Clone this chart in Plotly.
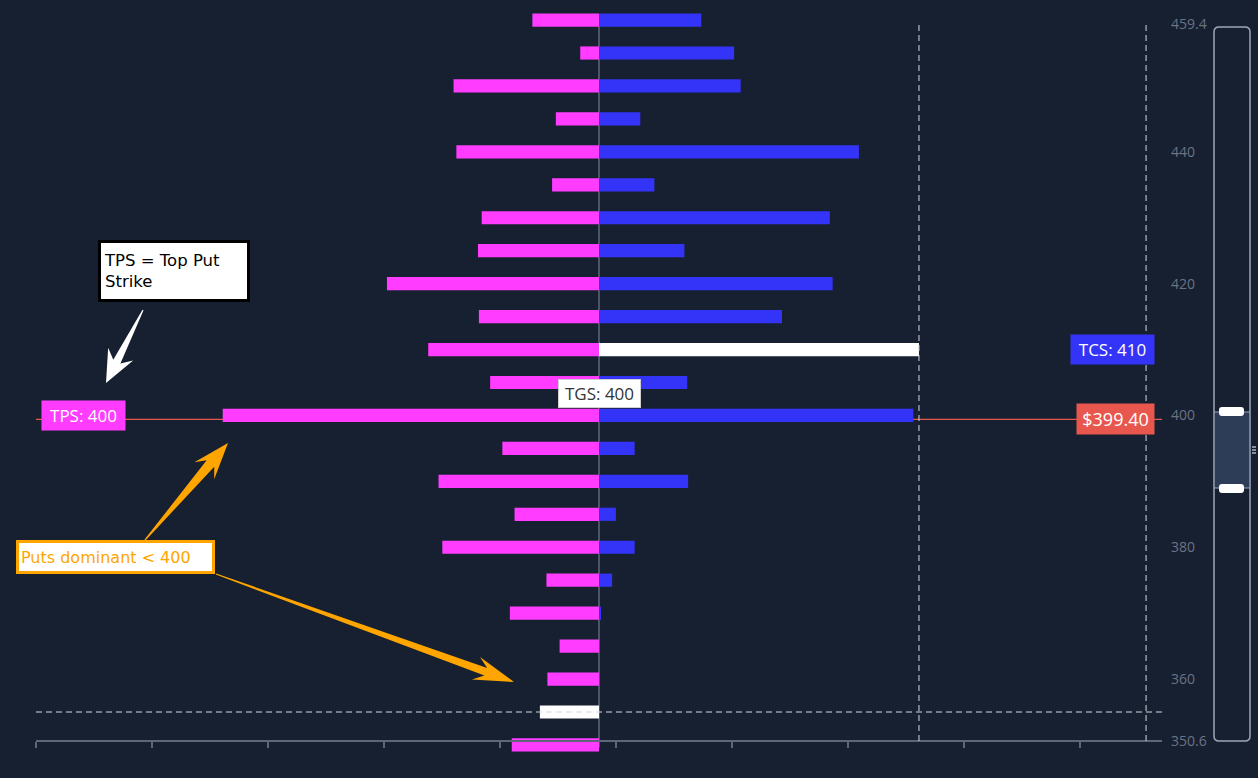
import math
import plotly.graph_objects as go

# ------------------------------------------------------------
# DADOS (open interest por strike, em milhares de contratos)
# ------------------------------------------------------------
strikes = list(range(350, 461, 5))
put_oi = [9.3, 6.3, 5.5, 4.2, 9.5, 5.6, 16.7, 9.0, 17.1, 10.3, 40.1, 11.6,
          18.2, 12.8, 22.6, 12.9, 12.5, 5.0, 15.2, 4.6, 15.5, 2.0, 7.1]
call_oi = [0, 0, 0, 0, 0.2, 1.4, 3.8, 1.8, 9.5, 3.8, 33.5, 9.4,
           34.1, 19.5, 24.9, 9.1, 24.6, 5.9, 27.7, 4.4, 15.1, 14.4, 10.9]
spot = 399.40
put_marker_strike = 355
upper_marker = 58.3
y_range = [350.6, 459.4]
y_ticks = [350.6, 360, 380, 400, 420, 440, 459.4]

tps = strikes[put_oi.index(max(put_oi))]
tcs = strikes[call_oi.index(max(call_oi))]
gross = [p + c for p, c in zip(put_oi, call_oi)]
tgs = strikes[gross.index(max(gross))]

# cores
BG = "#172031"
MAGENTA = "#ff3cff"
BLUE = "#3434f8"
ORANGE = "#ffa500"
GRAY = "#5f6776"

# ------------------------------------------------------------
# GEOMETRIA
# eixo y "visível" vai do pixel 24 ao 741; a área do gráfico é
# um pouco maior para as barras das pontas não serem cortadas
# ------------------------------------------------------------
W, H = 1258, 778
AX_TOP, AX_BOT = 24, 741
PAD = 12
ML, MR, MT, MB = 36, 96, AX_TOP - PAD, H - AX_BOT - PAD
PW = W - ML - MR
PH = H - MT - MB
ppu = (AX_BOT - AX_TOP) / (y_range[1] - y_range[0])
y_full = [y_range[0] - PAD / ppu, y_range[1] + PAD / ppu]


def px(x):
    return (x - ML) / PW


def py(y):
    return (H - MB - y) / PH


def seta(tail, tip, head, half_w, shaft_w):
    dx, dy = tip[0] - tail[0], tip[1] - tail[1]
    l = math.hypot(dx, dy)
    ux, uy = dx / l, dy / l
    nx, ny = -uy, ux
    bx, by = tip[0] - ux * head, tip[1] - uy * head
    wx, wy = tip[0] - ux * head * 1.35, tip[1] - uy * head * 1.35
    pts = [
        (tail[0] + nx * 0.6, tail[1] + ny * 0.6),
        (bx + nx * shaft_w, by + ny * shaft_w),
        (wx + nx * half_w, wy + ny * half_w),
        tip,
        (wx - nx * half_w, wy - ny * half_w),
        (bx - nx * shaft_w, by - ny * shaft_w),
        (tail[0] - nx * 0.6, tail[1] - ny * 0.6),
    ]
    return "M " + " L ".join(f"{px(a):.5f},{py(b):.5f}" for a, b in pts) + " Z"


def rrect(x0, y0, x1, y1, r):
    p = lambda a, b: f"{px(a):.5f},{py(b):.5f}"
    return (f"M {p(x0 + r, y0)} L {p(x1 - r, y0)} Q {p(x1, y0)} {p(x1, y0 + r)} "
            f"L {p(x1, y1 - r)} Q {p(x1, y1)} {p(x1 - r, y1)} "
            f"L {p(x0 + r, y1)} Q {p(x0, y1)} {p(x0, y1 - r)} "
            f"L {p(x0, y0 + r)} Q {p(x0, y0)} {p(x0 + r, y0)} Z")


# ------------------------------------------------------------
# BARRAS
# ------------------------------------------------------------
put_colors = ["#ffffff" if s == put_marker_strike else MAGENTA for s in strikes]
call_colors = ["#ffffff" if s == tcs else BLUE for s in strikes]

fig = go.Figure()
fig.add_trace(go.Bar(
    y=strikes, x=[-v for v in put_oi], orientation="h", width=2,
    marker=dict(color=put_colors, line_width=0),
    hoverinfo="skip", name="Puts",
))
fig.add_trace(go.Bar(
    y=strikes, x=call_oi, orientation="h", width=2,
    marker=dict(color=call_colors, line_width=0),
    hoverinfo="skip", name="Calls",
))

shapes = []
# linha do zero
shapes.append(dict(type="line", xref="x", x0=0, x1=0, yref="y",
                   y0=y_range[0] - 1, y1=y_range[1] + 1,
                   line=dict(color=GRAY, width=1.5), layer="below"))
# linha do preço
shapes.append(dict(type="line", xref="paper", x0=0, x1=1, yref="y", y0=spot, y1=spot,
                   line=dict(color="#e3574c", width=1.2), layer="below"))
# linhas tracejadas
dash_line = dict(color="#d3d7de", width=1, dash="6px,4px")
shapes.append(dict(type="line", xref="x", x0=max(call_oi), x1=max(call_oi),
                   yref="y", y0=y_range[0], y1=y_range[1], line=dash_line))
shapes.append(dict(type="line", xref="x", x0=upper_marker, x1=upper_marker,
                   yref="y", y0=y_range[0], y1=y_range[1], line=dash_line))
shapes.append(dict(type="line", xref="paper", x0=0, x1=1, yref="y",
                   y0=put_marker_strike, y1=put_marker_strike, line=dash_line))

# setas
shapes.append(dict(type="path", xref="paper", yref="paper",
                   path=seta((143, 310), (106, 383), 24, 14, 4),
                   fillcolor="#ffffff", line_width=0))
shapes.append(dict(type="path", xref="paper", yref="paper",
                   path=seta((145, 540), (228, 443), 27, 13, 5),
                   fillcolor=ORANGE, line_width=0))
shapes.append(dict(type="path", xref="paper", yref="paper",
                   path=seta((216, 574), (514, 682), 30, 12, 4),
                   fillcolor=ORANGE, line_width=0))

# "slider" vertical à direita
shapes.append(dict(type="rect", xref="paper", yref="paper",
                   x0=px(1215), x1=px(1249), y0=py(412), y1=py(488),
                   fillcolor="#2e3d57", line_width=0))
shapes.append(dict(type="path", xref="paper", yref="paper",
                   path=rrect(1214, 27, 1250, 741, 5),
                   line=dict(color="#9ba7b9", width=1.5)))
for yy in (412, 488):
    shapes.append(dict(type="line", xref="paper", yref="paper",
                       x0=px(1214), x1=px(1250), y0=py(yy), y1=py(yy),
                       line=dict(color="#9ba7b9", width=1)))
for y0 in (407, 484):
    shapes.append(dict(type="path", xref="paper", yref="paper",
                       path=rrect(1219, y0, 1244, y0 + 9, 3),
                       fillcolor="#ffffff", line_width=0))
for yy in (447, 450, 453):
    shapes.append(dict(type="line", xref="paper", yref="paper",
                       x0=px(1252), x1=px(1256), y0=py(yy), y1=py(yy),
                       line=dict(color="#ffffff", width=1)))

# ------------------------------------------------------------
# ANOTAÇÕES
# ------------------------------------------------------------
fonte = "Open Sans"
annotations = [
    dict(text=f"TPS: {tps}", xref="paper", x=px(41), xanchor="left",
         yref="y", y=tps, yanchor="middle", showarrow=False, width=77,
         bgcolor=MAGENTA, borderpad=3, font=dict(family=fonte, size=17, color="white")),
    dict(text=f"TCS: {tcs}", xref="paper", x=px(1155), xanchor="right",
         yref="y", y=tcs, yanchor="middle", showarrow=False, width=77,
         bgcolor=BLUE, borderpad=3, font=dict(family=fonte, size=17, color="white")),
    dict(text=f"${spot:.2f}", xref="paper", x=px(1155), xanchor="right",
         yref="y", y=spot, yanchor="middle", showarrow=False, width=71,
         bgcolor="#e8574e", borderpad=3, font=dict(family=fonte, size=18, color="white")),
    dict(text=f"TGS: {tgs}", xref="x", x=0, xanchor="center",
         yref="y", y=tgs, yanchor="middle", yshift=22, showarrow=False, width=77,
         bgcolor="white", bordercolor="#d0d0d0", borderwidth=1, borderpad=2,
         font=dict(family=fonte, size=17, color="#333333")),
    dict(text="TPS = Top Put<br>Strike", xref="paper", x=px(174), xanchor="center",
         yref="paper", y=py(271), yanchor="middle", showarrow=False,
         width=140, height=50, align="left", valign="middle",
         bgcolor="white", bordercolor="black", borderwidth=3, borderpad=3,
         font=dict(family="DejaVu Sans", size=16.5, color="black")),
    dict(text="Puts dominant &lt; 400", xref="paper", x=px(115.5), xanchor="center",
         yref="paper", y=py(557), yanchor="middle", showarrow=False,
         width=189, height=24, align="left",
         bgcolor="white", bordercolor=ORANGE, borderwidth=3, borderpad=2,
         font=dict(family="DejaVu Sans", size=16, color=ORANGE)),
]

fig.update_layout(
    width=W, height=H,
    margin=dict(l=ML, r=MR, t=MT, b=MB),
    paper_bgcolor=BG, plot_bgcolor=BG,
    barmode="relative",
    showlegend=False,
    shapes=shapes,
    annotations=annotations,
)
fig.update_xaxes(
    range=[-60, 60], showgrid=False, showticklabels=False, zeroline=False,
    anchor="free", position=py(AX_BOT),
    showline=True, linecolor=GRAY, linewidth=1.5,
    ticks="outside", ticklen=6, tickcolor=GRAY, tickwidth=1.5,
    tickmode="linear", tick0=-60, dtick=12.36,
)
fig.update_yaxes(
    range=y_full, side="right", showgrid=False, zeroline=False,
    showline=False, ticks="", ticklabelstandoff=8,
    tickmode="array", tickvals=y_ticks, ticktext=[f"{v:g}" for v in y_ticks],
    tickfont=dict(family=fonte, size=14, color="#6b7383"),
)

fig.write_html("out.html", config={"displayModeBar": False},
               post_script="document.body.style.margin='0px';")
